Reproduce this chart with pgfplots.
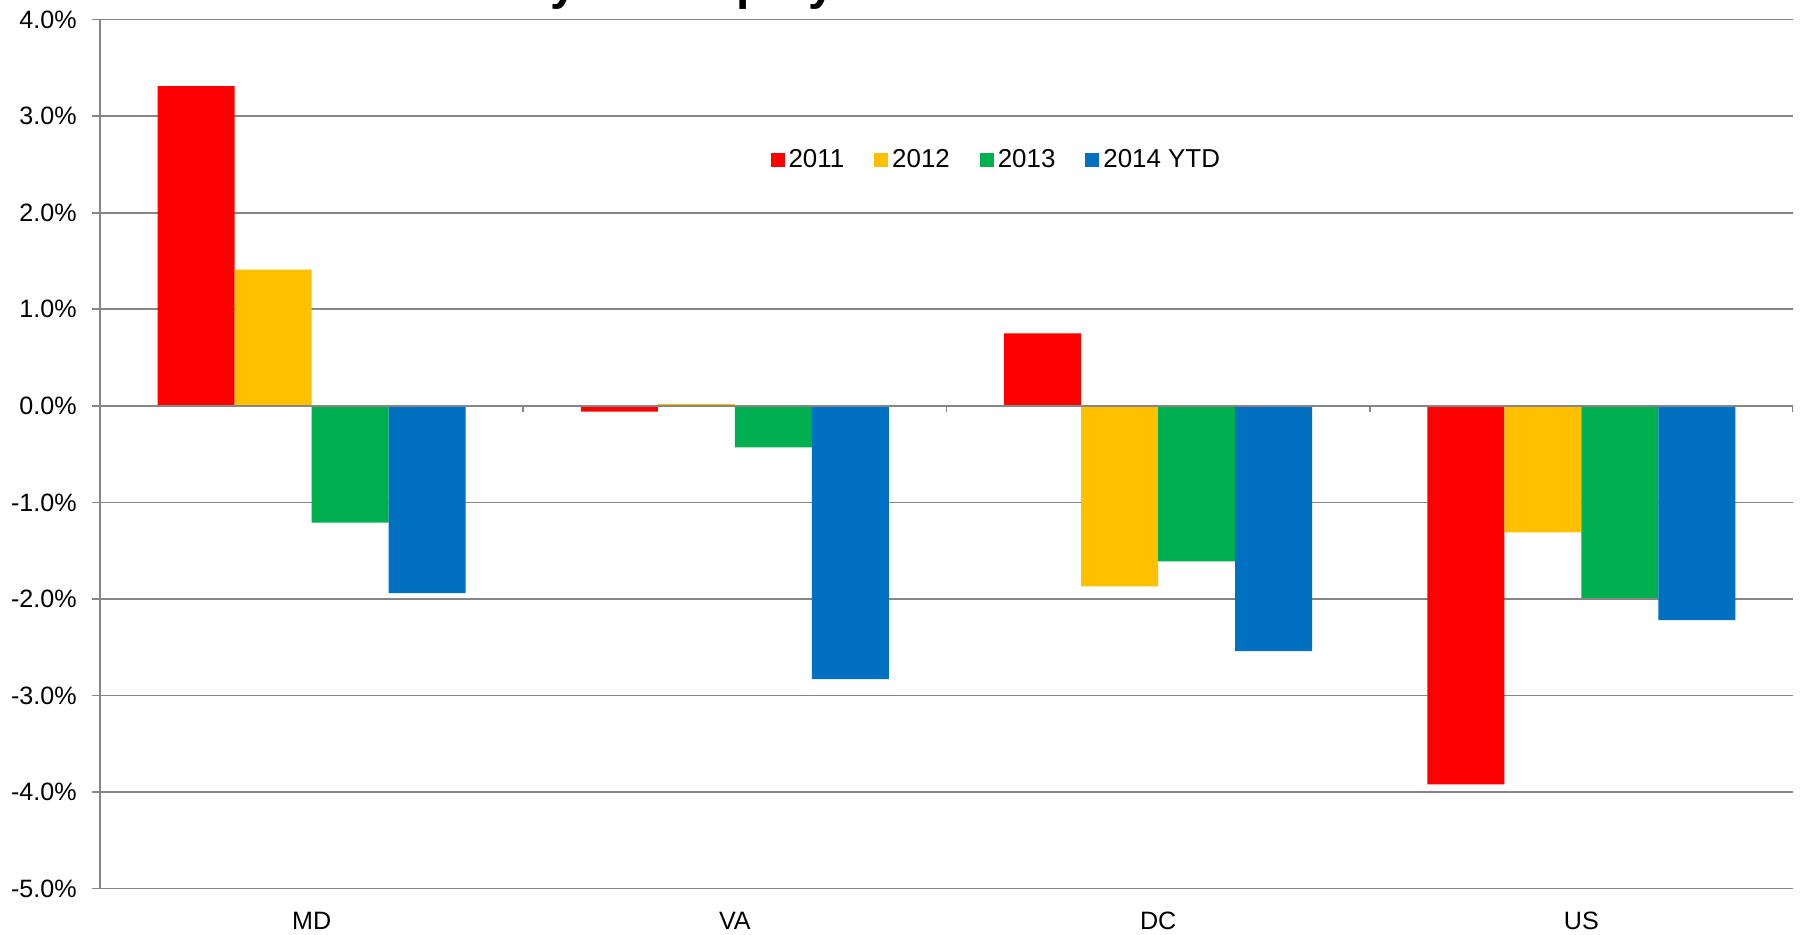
\documentclass[border=0pt]{standalone}
\usepackage{pgfplots}
\pgfplotsset{compat=1.18}
\usepackage{fontspec}
\setmainfont{Liberation Sans}
\definecolor{cred}{HTML}{FF0000}
\definecolor{cyel}{HTML}{FFC000}
\definecolor{cgrn}{HTML}{00B050}
\definecolor{cblu}{HTML}{0070C0}
\definecolor{gridc}{HTML}{868686}
\begin{document}
\begin{tikzpicture}
\useasboundingbox (0,0) rectangle (900bp,467.5bp);
\node[anchor=base west, font=\bfseries\fontsize{24}{28}\selectfont, inner sep=0pt] at (158bp,467.5bp) {Year-over-year Employment Growth};
\begin{axis}[
  at={(50bp,23.2bp)}, anchor=south west,
  scale only axis, width=846.5bp, height=434.5bp,
  ybar=0pt, bar width=0.182,
  xmin=-0.5, xmax=3.5, ymin=-5, ymax=4,
  axis lines*=left,
  axis line style={gridc, line width=0.8bp},
  xtick={0,1,2,3}, xticklabels={MD,VA,DC,US},
  x tick style={draw=none}, major tick length=4bp,
  ytick={-5,-4,...,4},
  y tick style={gridc, line width=0.8bp},
  tick align=outside,
  ymajorgrids, grid style={gridc, line width=0.8bp},
  /pgf/number format/assume math mode=true,
  tick label style={font=\fontsize{12.6}{15}\selectfont},
  yticklabel={\pgfmathprintnumber[fixed,fixed zerofill,precision=1]{\tick}\%},
  yticklabel style={inner sep=0pt, xshift=-7.5bp},
  xticklabel style={inner sep=0pt, anchor=north, yshift=-7.5bp},
  legend style={at={(0.53,0.838)}, anchor=center, draw=none, fill=none,
    font=\fontsize{13}{15}\selectfont, legend columns=4,
    /tikz/every even column/.append style={column sep=13bp},
    inner sep=0pt},
  legend image code/.code={\fill[#1] (0bp,-3.5bp) rectangle (7bp,3.5bp);},
  every axis plot/.append style={draw=none},
]
\addplot[fill=cred] coordinates {(0,3.31) (1,-0.06) (2,0.75) (3,-3.92)};
\addplot[fill=cyel] coordinates {(0,1.41) (1,0.02) (2,-1.87) (3,-1.31)};
\addplot[fill=cgrn] coordinates {(0,-1.21) (1,-0.43) (2,-1.61) (3,-1.99)};
\addplot[fill=cblu] coordinates {(0,-1.94) (1,-2.83) (2,-2.54) (3,-2.22)};
\legend{2011,2012,2013,2014 YTD}
\draw[gridc, line width=0.8bp] (axis cs:-0.5,0) -- (axis cs:3.5,0);
\pgfplotsinvokeforeach{0.5,1.5,2.5,3.5}{\draw[gridc, line width=0.8bp] (axis cs:#1,0) -- ([yshift=-3bp]axis cs:#1,0);}
\end{axis}
\end{tikzpicture}
\end{document}
